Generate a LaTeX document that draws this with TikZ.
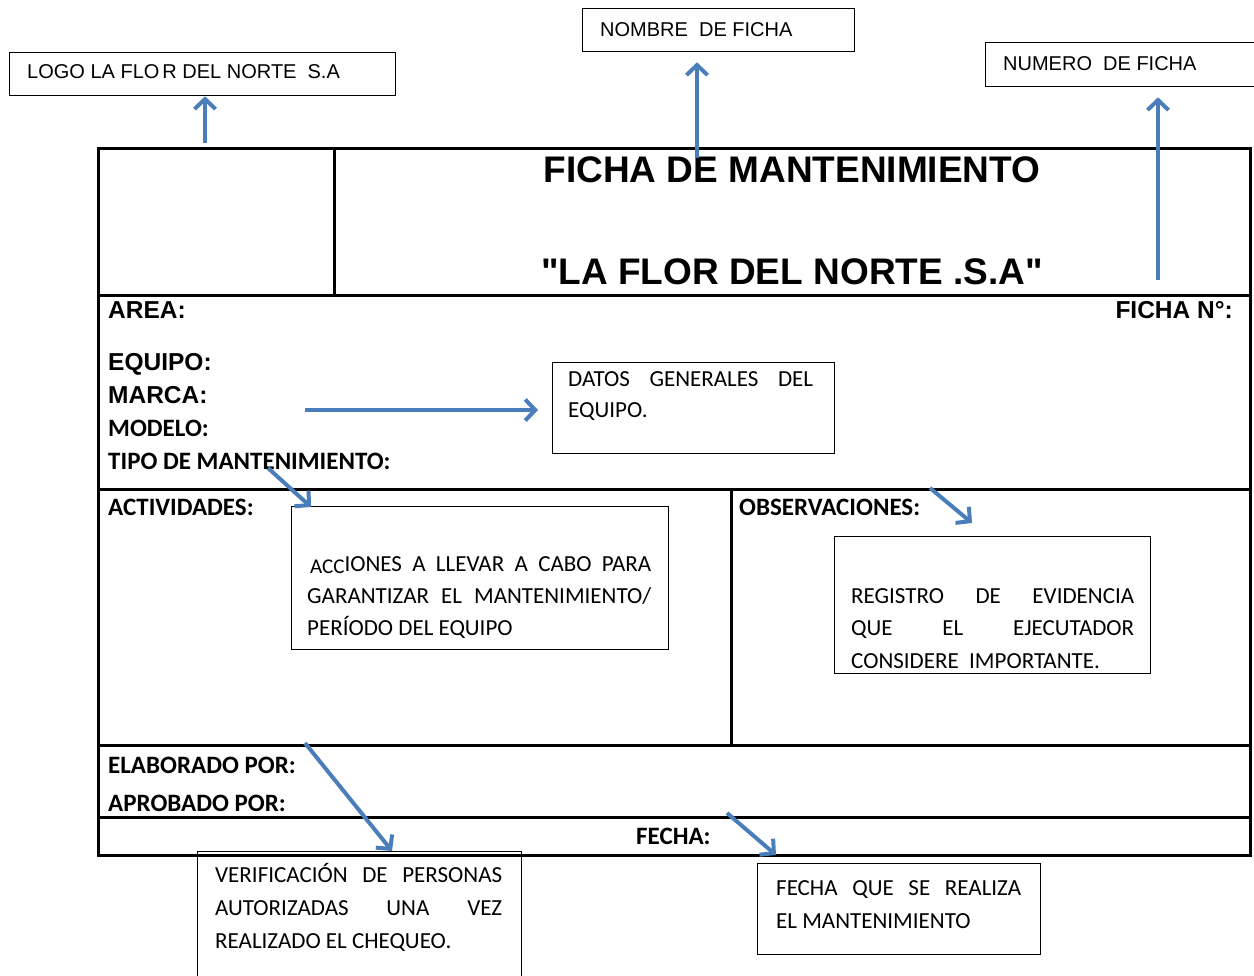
\documentclass[tikz,border=0pt]{standalone}
\usepackage{fontspec}
\setmainfont{Liberation Sans}
\newfontfamily\carlito{Carlito}
\usetikzlibrary{arrows.meta,calc}
\definecolor{arrblue}{HTML}{4A7EBB}
\tikzset{
  frameline/.style={line width=3pt, line cap=rect},
  cbox/.style={draw, line width=1.3pt, rectangle, inner sep=0pt, anchor=north west},
  toptxt/.style={anchor=base west, inner sep=0pt, font=\fontsize{20}{24}\selectfont},
  title/.style={anchor=base, inner sep=0pt, font=\bfseries\fontsize{37}{40}\selectfont},
  albl/.style={anchor=base west, inner sep=0pt, font=\bfseries\fontsize{24.5}{28}\selectfont},
  clbl/.style={anchor=base west, inner sep=0pt, font=\carlito\bfseries\fontsize{25}{28}\selectfont},
  btxt/.style={anchor=base west, inner sep=0pt, font=\carlito\fontsize{23}{32}\selectfont},
  callout/.style={draw=arrblue, line width=4pt, -{Straight Barb[length=10pt,width=21pt]}},
}
\begin{document}
\begin{tikzpicture}[x=1pt,y=-1pt]
\useasboundingbox (0,0) rectangle (1254,976);
\fill[white] (0,0) rectangle (1254,976);

% ---------- main form ----------
\draw[frameline] (98,149) rectangle (1250,855);
\draw[frameline] (98,296) -- (1250,296);
\draw[frameline] (98,489) -- (1250,489);
\draw[frameline] (98,745) -- (1250,745);
\draw[frameline] (98,817) -- (1250,817);
\draw[frameline] (334,149) -- (334,296);
\draw[frameline] (731,489) -- (731,745);

\node[title] (t1) at (792,183) {FICHA DE MANTENIMIENTO};
\node[title] (t2) at (792,285) {\textquotedbl LA FLOR DEL NORTE .S.A\textquotedbl};

\node[albl] (area) at (108,319) {AREA:};
\node[albl, anchor=base east] (fichan) at (1233,319) {FICHA N°:};
\node[albl] (equipo) at (108,371) {EQUIPO:};
\node[albl] (marca) at (108,404) {MARCA:};
\node[clbl] (modelo) at (108,436) {MODELO:};
\node[clbl] (tipo) at (108,469) {TIPO DE MANTENIMIENTO:};
\node[clbl] (activ) at (108,515) {ACTIVIDADES:};
\node[clbl] (obs) at (739,515) {OBSERVACIONES:};
\node[clbl] (elab) at (108,773) {ELABORADO POR:};
\node[clbl] (aprob) at (108,811) {APROBADO POR:};
\node[clbl] (fecha) at (636,844) {FECHA:};

% ---------- callout boxes ----------
\node[cbox, minimum width=386pt, minimum height=43pt] (logo) at (9,52) {};
\node[toptxt] (logot) at (27,79) {LOGO LA FLO\kern3pt R DEL NORTE\ \ S.A};

\node[cbox, minimum width=272pt, minimum height=43pt] (nombre) at (582,8) {};
\node[toptxt] (nombret) at (600,37) {NOMBRE\ \ DE FICHA};

\node[cbox, minimum width=280pt, minimum height=44pt] (numero) at (985,42) {};
\node[toptxt] (numerot) at (1003,71) {NUMERO\ \ DE FICHA};

\node[cbox, minimum width=282pt, minimum height=91pt] (datos) at (552,362) {};
\node[btxt] (datost) at (568,387) {\vtop{\baselineskip=31pt
  \hbox to 245pt{DATOS\hfill GENERALES\hfill DEL}
  \hbox{EQUIPO.}}};

\node[cbox, minimum width=377pt, minimum height=143pt] (acc) at (291,506) {};
\node[btxt] (acct) at (307,571) {\vtop{\baselineskip=32pt
  \hbox to 344pt{\hspace{3pt}\raisebox{-2pt}{\fontsize{21}{21}\selectfont ACC}IONES\hfill A\hfill LLEVAR\hfill A\hfill CABO\hfill PARA}
  \hbox to 344pt{GARANTIZAR\hfill EL\hfill MANTENIMIENTO/}
  \hbox{PERÍODO DEL EQUIPO}}};

\node[cbox, minimum width=316pt, minimum height=137pt] (reg) at (834,536) {};
\node[btxt] (regt) at (851,603) {\vtop{\baselineskip=32.5pt
  \hbox to 283pt{REGISTRO\hfill DE\hfill EVIDENCIA}
  \hbox to 283pt{QUE\hfill EL\hfill EJECUTADOR}
  \hbox{CONSIDERE\ \ IMPORTANTE.}}};

\node[cbox, minimum width=324pt, minimum height=140pt] (verif) at (197,851) {};
\node[btxt] (verift) at (215,882) {\vtop{\baselineskip=33pt
  \hbox to 287pt{VERIFICACIÓN\hfill DE\hfill PERSONAS}
  \hbox to 287pt{AUTORIZADAS\hfill UNA\hfill VEZ}
  \hbox{REALIZADO EL CHEQUEO.}}};

\node[cbox, minimum width=283pt, minimum height=91pt] (fq) at (757,863) {};
\node[btxt] (fqt) at (776,895) {\vtop{\baselineskip=33pt
  \hbox to 245pt{FECHA\hfill QUE\hfill SE\hfill REALIZA}
  \hbox{EL MANTENIMIENTO}}};

% ---------- arrows ----------
\coordinate (s1) at (205,143);
\coordinate (s2) at (697,158);
\coordinate (s3) at (1158,280);
\coordinate (s4) at (305,410);
\coordinate (s5) at (268,468);
\coordinate (e5) at (311,507);
\coordinate (s6) at (930,488);
\coordinate (e6) at (972,523);
\coordinate (s7) at (305,743);
\coordinate (s8) at (727,813);
\coordinate (e8) at (776,855);

\draw[callout] (s1) -- (s1 |- logo.south);
\draw[callout, shorten >=10pt] (s2) -- (s2 |- nombre.south);
\draw[callout, shorten >=10pt] (s3) -- (s3 |- numero.south);
\draw[callout, shorten >=14pt] (s4) -- (s4 -| datos.west);
\draw[callout] (s5) -- (e5);
\draw[callout] (s6) -- (e6);
\draw[callout] (s7) -- ($(verif.north west)+(195,0)$);
\draw[callout] (s8) -- (e8);
\end{tikzpicture}
\end{document}
